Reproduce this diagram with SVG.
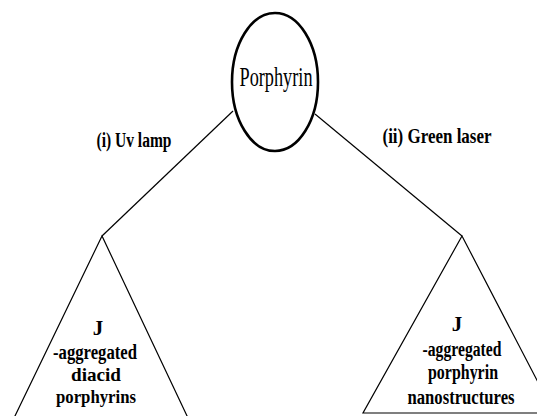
<svg xmlns="http://www.w3.org/2000/svg" width="537" height="416" viewBox="0 0 537 416">
<style>
.edge{fill:none;stroke:#000;stroke-width:1.2}
.tri{fill:#fff;stroke:#000;stroke-width:1.2}
.lbl{font-family:"Liberation Serif","Times New Roman",serif;font-weight:bold;fill:#000;text-anchor:middle}
.nm{font-family:"Liberation Serif","Times New Roman",serif;fill:#000;text-anchor:middle}
</style>
<rect width="537" height="416" fill="#fff"/>
<g id="connectors">
<line class="edge" x1="233" y1="111" x2="102" y2="236"/>
<line class="edge" x1="315" y1="114" x2="462" y2="236"/>
</g>
<g id="porphyrin">
<ellipse cx="275" cy="82" rx="43" ry="69" fill="#fff" stroke="#000" stroke-width="2.6"/>
<text class="nm" x="276" y="86" font-size="27" textLength="73" lengthAdjust="spacingAndGlyphs">Porphyrin</text>
</g>
<g id="label-uv">
<text class="lbl" x="134" y="147" font-size="20" textLength="75" lengthAdjust="spacingAndGlyphs">(i) Uv lamp</text>
</g>
<g id="label-green">
<text class="lbl" x="437" y="143" font-size="21" textLength="109" lengthAdjust="spacingAndGlyphs">(ii) Green laser</text>
</g>
<g id="diacid">
<polygon class="tri" points="102,236 14,418 188,418"/>
<text class="lbl" x="98" y="335" font-size="21">J</text>
<text class="lbl" x="95" y="359" font-size="20" textLength="84" lengthAdjust="spacingAndGlyphs">-aggregated</text>
<text class="lbl" x="96" y="381" font-size="19" textLength="50" lengthAdjust="spacingAndGlyphs">diacid</text>
<text class="lbl" x="96" y="403" font-size="19" textLength="80" lengthAdjust="spacingAndGlyphs">porphyrins</text>
</g>
<g id="nanostructures">
<polygon class="tri" points="462,236 363,413 554,413"/>
<text class="lbl" x="457" y="331" font-size="21">J</text>
<text class="lbl" x="462" y="356" font-size="20" textLength="79" lengthAdjust="spacingAndGlyphs">-aggregated</text>
<text class="lbl" x="463" y="379" font-size="20" textLength="70" lengthAdjust="spacingAndGlyphs">porphyrin</text>
<text class="lbl" x="461" y="404" font-size="20" textLength="107" lengthAdjust="spacingAndGlyphs">nanostructures</text>
</g>
</svg>
